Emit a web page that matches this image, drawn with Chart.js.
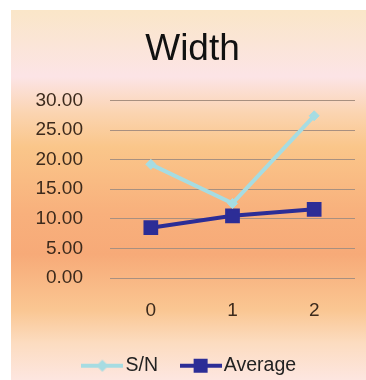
<!DOCTYPE html>
<html>
<head>
<meta charset="utf-8">
<script src="https://cdn.jsdelivr.net/npm/chart.js@4"></script>
<style>
	body { margin: 0; background: #fff; }
	#wrap {
		position: absolute; left: 11px; top: 10px; width: 355px; height: 370px;
		background: linear-gradient(to bottom,
			#fae6c8 0%, #fce4e6 18%, #fbd4b0 28%, #fac68a 37%,
			#f8b07c 55%, #f7aa78 66%, #fac692 81%, #fcdcc0 90%, #fde6e0 100%);
	}
</style>
</head>
<body>
<div id="wrap"><canvas id="chart" width="355" height="370"></canvas></div>
<script>
const categories = ['0', '1', '2'];
const snValues = [19.2, 12.6, 27.4];
const averageValues = [8.5, 10.5, 11.6];
const yTicks = [0, 5, 10, 15, 20, 25, 30];

const SN_COLOR = '#a6dce2';
const AVG_COLOR = '#2c2d96';

// little line + marker image for the legend
function legendSample(color, marker) {
	const c = document.createElement('canvas');
	c.width = 42; c.height = 16;
	const g = c.getContext('2d');
	g.strokeStyle = color; g.fillStyle = color; g.lineWidth = 4;
	g.beginPath(); g.moveTo(0, 8); g.lineTo(42, 8); g.stroke();
	if (marker === 'rect') {
		g.fillRect(14, 1, 14, 14);
	} else {
		g.beginPath(); g.moveTo(21, 2); g.lineTo(27, 8); g.lineTo(21, 14); g.lineTo(15, 8); g.closePath(); g.fill();
	}
	return c;
}
const samples = [legendSample(SN_COLOR, 'rectRot'), legendSample(AVG_COLOR, 'rect')];

new Chart(document.getElementById('chart').getContext('2d'), {
	type: 'line',
	data: {
		labels: categories,
		datasets: [
			{
				label: 'S/N',
				data: snValues,
				borderColor: SN_COLOR,
				backgroundColor: SN_COLOR,
				borderWidth: 4,
				pointStyle: 'rectRot',
				pointRadius: 5,
				pointBorderWidth: 1,
				tension: 0,
			},
			{
				label: 'Average',
				data: averageValues,
				borderColor: AVG_COLOR,
				backgroundColor: AVG_COLOR,
				borderWidth: 4,
				pointStyle: 'rect',
				pointRadius: 9,
				pointBorderWidth: 2,
				tension: 0,
			},
		],
	},
	options: {
		responsive: false,
		animation: false,
		layout: { padding: { left: 19, right: 11, top: 0, bottom: 3 } },
		plugins: {
			tooltip: { enabled: false },
			title: {
				display: true,
				text: 'Width',
				color: '#111',
				font: { family: 'Liberation Sans', size: 37, weight: 'normal' },
				padding: { top: 18, bottom: 28 },
			},
			legend: {
				position: 'bottom',
				maxHeight: 50,
				labels: {
					color: '#222',
					font: { family: 'Liberation Sans', size: 19.5 },
					usePointStyle: true,
					pointStyleWidth: 27,
					padding: 29,
					generateLabels: (chart) => Chart.defaults.plugins.legend.labels.generateLabels(chart)
						.map((item, i) => Object.assign(item, { pointStyle: samples[i] })),
				},
			},
		},
		scales: {
			x: {
				offset: true,
				afterFit: (scale) => { scale.height = 49; },
				grid: { display: false },
				border: { display: false },
				ticks: { color: '#3c2a1c', padding: 13, font: { family: 'Liberation Sans', size: 19 } },
			},
			y: {
				min: 0,
				max: 30,
				afterFit: (scale) => { scale.width = 80; },
				afterBuildTicks: (scale) => { scale.ticks = yTicks.map((v) => ({ value: v })); },
				grid: { color: '#a89080', lineWidth: 1, drawTicks: false },
				border: { display: false },
				ticks: {
					color: '#3c2a1c',
					padding: 27,
					font: { family: 'Liberation Sans', size: 19 },
					callback: (v) => Number(v).toFixed(2),
				},
			},
		},
	},
});
</script>
</body>
</html>
